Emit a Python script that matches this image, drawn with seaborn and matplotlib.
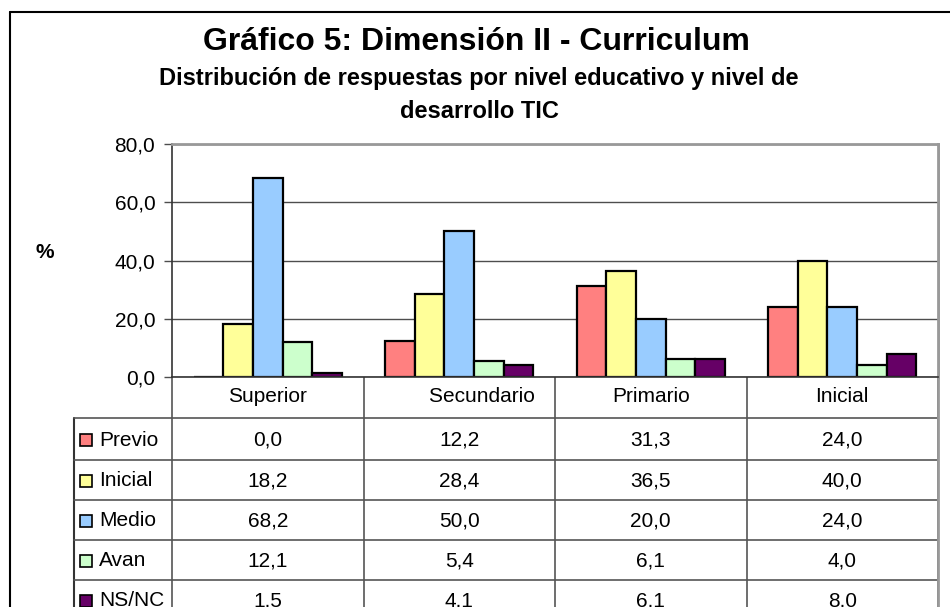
import matplotlib
matplotlib.use("Agg")
import matplotlib.pyplot as plt
import seaborn as sns
import pandas as pd
from matplotlib.lines import Line2D
from matplotlib.patches import Rectangle

# ---- data ----
categories = ["Superior", "Secundario", "Primario", "Inicial"]
header_labels = ["Superior", "        Secundario", "Primario", "Inicial"]
series = ["Previo", "Inicial", "Medio", "Avan", "NS/NC"]
previo = [0.0, 12.2, 31.3, 24.0]
inicial = [18.2, 28.4, 36.5, 40.0]
medio = [68.2, 50.0, 20.0, 24.0]
avan = [12.1, 5.4, 6.1, 4.0]
nsnc = [1.5, 4.1, 6.1, 8.0]
colors = ["#FF8080", "#FFFF99", "#99CCFF", "#CCFFCC", "#660066"]
yticks = [0, 20, 40, 60, 80]

values = [previo, inicial, medio, avan, nsnc]
rows = []
for s, vals in zip(series, values):
    for c, v in zip(categories, vals):
        rows.append({"nivel": c, "serie": s, "valor": v})
df = pd.DataFrame(rows)

sns.set_theme(style="white")
plt.rcParams["font.family"] = ["Liberation Sans", "DejaVu Sans"]
plt.rcParams["text.color"] = "black"
plt.rcParams["axes.labelcolor"] = "black"
plt.rcParams["xtick.color"] = "black"
plt.rcParams["ytick.color"] = "black"

W, H = 950, 607
fig = plt.figure(figsize=(W / 100, H / 100), dpi=100)

# plot area in pixels
px_l, px_r, px_t, px_b = 172, 938, 144, 377
ax = fig.add_axes([px_l / W, 1 - px_b / H, (px_r - px_l) / W, (px_b - px_t) / H])

sns.barplot(data=df, x="nivel", y="valor", hue="serie", order=categories,
            hue_order=series, palette=colors, saturation=1, edgecolor="black",
            linewidth=1.6, width=0.773, legend=False, ax=ax, errorbar=None, zorder=3)

ax.set_xlim(-0.5, len(categories) - 0.5)
ax.set_ylim(0, 80)
ax.set_yticks(yticks)
ax.set_yticklabels([f"{t:.1f}".replace(".", ",") for t in yticks], fontsize=15)
ax.set_xticks([])
ax.set_xlabel("")
ax.set_ylabel("")
ax.yaxis.grid(True, color="#4d4d4d", linewidth=1.0, zorder=0)
ax.set_axisbelow(True)
ax.tick_params(axis="y", which="both", left=True, length=6, width=1.0,
               color="#4d4d4d", pad=6, labelcolor="black")
for side in ["left", "bottom"]:
    ax.spines[side].set_color("#333333")
    ax.spines[side].set_linewidth(1.2)
for side in ["top", "right"]:
    ax.spines[side].set_color("#999999")
    ax.spines[side].set_linewidth(2.0)
ax.spines["bottom"].set_zorder(5)

# ---- overlay in pixel coordinates for title, border and table ----
ov = fig.add_axes([0, 0, 1, 1], zorder=-1)
ov.set_xlim(0, W)
ov.set_ylim(H, 0)
ov.axis("off")
ov.patch.set_alpha(0)

# outer chart border
ov.add_line(Line2D([10, 10], [12, H + 5], color="black", lw=1.5))
ov.add_line(Line2D([10, W + 5], [12, 12], color="black", lw=1.5))

ov.text(476, 42, "Gráfico 5: Dimensión II - Curriculum", ha="center", va="center",
        fontsize=23, fontweight="bold")
ov.text(479, 78, "Distribución de respuestas por nivel educativo y nivel de",
        ha="center", va="center", fontsize=17, fontweight="bold")
ov.text(479, 111, "desarrollo TIC", ha="center", va="center", fontsize=17,
        fontweight="bold")
ov.text(45, 253, "%", ha="center", va="center", fontsize=15, fontweight="bold")

# table geometry derived from axes transform
fig.canvas.draw()
to_px = lambda xd: (ax.transData.transform((xd, 0))[0])
bounds = [to_px(i - 0.5) for i in range(len(categories) + 1)]
centers = [to_px(i) for i in range(len(categories))]
tbl_left = 74
header_bottom = 418
row_lines = [header_bottom, 460, 500, 540, 580, 620]
line_col = "#555555"

for b in bounds:
    ov.add_line(Line2D([b, b], [px_b, H + 5], color=line_col, lw=1.2))
ov.add_line(Line2D([tbl_left, tbl_left], [header_bottom, H + 5], color="#333333", lw=1.5))
for y in row_lines:
    ov.add_line(Line2D([tbl_left, bounds[-1]], [y, y], color=line_col, lw=1.2))
ov.add_line(Line2D([bounds[-1], bounds[-1]], [px_t, H + 5], color="#999999", lw=2.0))

for c, lab in zip(centers, header_labels):
    ov.text(c, 396, lab, ha="center", va="center", fontsize=15)

for i, (s, vals, col) in enumerate(zip(series, values, colors)):
    yc = (row_lines[i] + row_lines[i + 1]) / 2 + 1
    ov.add_patch(Rectangle((80, yc - 6), 12, 12, facecolor=col, edgecolor="black", lw=1.2))
    ov.text(99, yc, s, ha="left", va="center", fontsize=15)
    for c, v in zip(centers, vals):
        ov.text(c, yc, f"{v:.1f}".replace(".", ","), ha="center", va="center", fontsize=15)

fig.savefig("out.png", dpi=100)
